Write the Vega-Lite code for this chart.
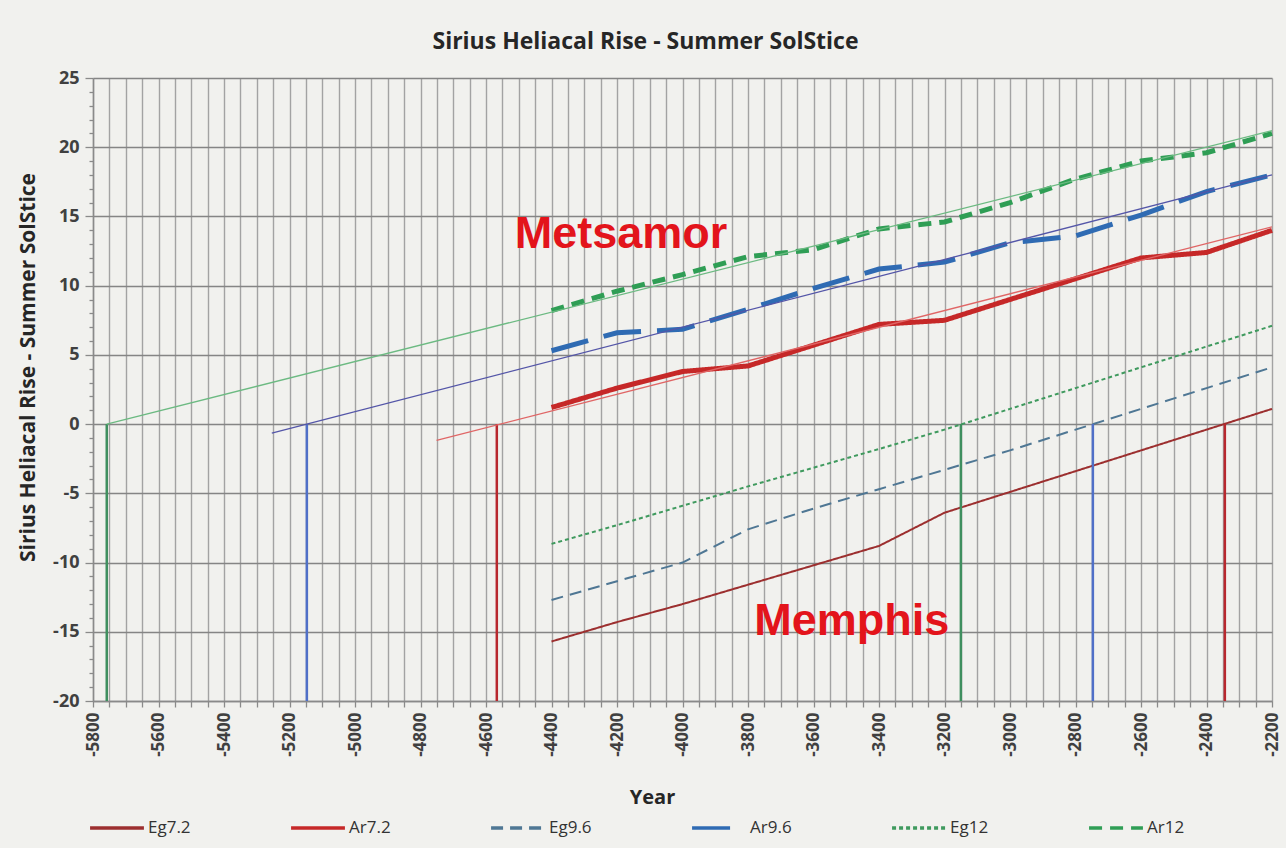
{
  "$schema": "https://vega.github.io/schema/vega-lite/v6.json",
  "width": 1179,
  "height": 623,
  "autosize": {"type": "none"},
  "padding": {"left": 93, "top": 78, "right": 14, "bottom": 147},
  "background": "#f1f1ee",
  "title": {"text": "Sirius Heliacal Rise - Summer SolStice", "font": "Open Sans", "fontSize": 23, "fontWeight": "bold", "color": "#262626", "frame": "group", "anchor": "middle", "dx": -37, "offset": 15},
  "config": {"view": {"stroke": null}},
  "datasets": {
    "series": [
      {"series": "Eg7.2", "year": -4400, "value": -15.7},
      {"series": "Eg7.2", "year": -4200, "value": -14.3},
      {"series": "Eg7.2", "year": -4000, "value": -13.0},
      {"series": "Eg7.2", "year": -3800, "value": -11.6},
      {"series": "Eg7.2", "year": -3600, "value": -10.2},
      {"series": "Eg7.2", "year": -3400, "value": -8.8},
      {"series": "Eg7.2", "year": -3200, "value": -6.4},
      {"series": "Eg7.2", "year": -3000, "value": -4.9},
      {"series": "Eg7.2", "year": -2800, "value": -3.4},
      {"series": "Eg7.2", "year": -2600, "value": -1.9},
      {"series": "Eg7.2", "year": -2400, "value": -0.4},
      {"series": "Eg7.2", "year": -2200, "value": 1.1},
      {"series": "Ar7.2", "year": -4400, "value": 1.2},
      {"series": "Ar7.2", "year": -4200, "value": 2.6},
      {"series": "Ar7.2", "year": -4000, "value": 3.8},
      {"series": "Ar7.2", "year": -3800, "value": 4.2},
      {"series": "Ar7.2", "year": -3600, "value": 5.7},
      {"series": "Ar7.2", "year": -3400, "value": 7.2},
      {"series": "Ar7.2", "year": -3200, "value": 7.5},
      {"series": "Ar7.2", "year": -3000, "value": 9.0},
      {"series": "Ar7.2", "year": -2800, "value": 10.5},
      {"series": "Ar7.2", "year": -2600, "value": 12.0},
      {"series": "Ar7.2", "year": -2400, "value": 12.4},
      {"series": "Ar7.2", "year": -2200, "value": 14.0},
      {"series": "Eg9.6", "year": -4400, "value": -12.7},
      {"series": "Eg9.6", "year": -4200, "value": -11.35},
      {"series": "Eg9.6", "year": -4000, "value": -10.0},
      {"series": "Eg9.6", "year": -3800, "value": -7.6},
      {"series": "Eg9.6", "year": -3600, "value": -6.1},
      {"series": "Eg9.6", "year": -3400, "value": -4.7},
      {"series": "Eg9.6", "year": -3200, "value": -3.3},
      {"series": "Eg9.6", "year": -3000, "value": -1.9},
      {"series": "Eg9.6", "year": -2800, "value": -0.4},
      {"series": "Eg9.6", "year": -2600, "value": 1.1},
      {"series": "Eg9.6", "year": -2400, "value": 2.6},
      {"series": "Eg9.6", "year": -2200, "value": 4.1},
      {"series": "Ar9.6", "year": -4400, "value": 5.3},
      {"series": "Ar9.6", "year": -4200, "value": 6.6},
      {"series": "Ar9.6", "year": -4000, "value": 6.85},
      {"series": "Ar9.6", "year": -3800, "value": 8.3},
      {"series": "Ar9.6", "year": -3600, "value": 9.8},
      {"series": "Ar9.6", "year": -3400, "value": 11.2},
      {"series": "Ar9.6", "year": -3200, "value": 11.7},
      {"series": "Ar9.6", "year": -3000, "value": 13.1},
      {"series": "Ar9.6", "year": -2800, "value": 13.6},
      {"series": "Ar9.6", "year": -2600, "value": 15.1},
      {"series": "Ar9.6", "year": -2400, "value": 16.8},
      {"series": "Ar9.6", "year": -2200, "value": 18.0},
      {"series": "Eg12", "year": -4400, "value": -8.65},
      {"series": "Eg12", "year": -4200, "value": -7.3},
      {"series": "Eg12", "year": -4000, "value": -5.9},
      {"series": "Eg12", "year": -3800, "value": -4.5},
      {"series": "Eg12", "year": -3600, "value": -3.15},
      {"series": "Eg12", "year": -3400, "value": -1.8},
      {"series": "Eg12", "year": -3200, "value": -0.4},
      {"series": "Eg12", "year": -3000, "value": 1.1},
      {"series": "Eg12", "year": -2800, "value": 2.6},
      {"series": "Eg12", "year": -2600, "value": 4.1},
      {"series": "Eg12", "year": -2400, "value": 5.6},
      {"series": "Eg12", "year": -2200, "value": 7.1},
      {"series": "Ar12", "year": -4400, "value": 8.2},
      {"series": "Ar12", "year": -4200, "value": 9.6},
      {"series": "Ar12", "year": -4000, "value": 10.8},
      {"series": "Ar12", "year": -3800, "value": 12.1},
      {"series": "Ar12", "year": -3600, "value": 12.6},
      {"series": "Ar12", "year": -3400, "value": 14.1},
      {"series": "Ar12", "year": -3200, "value": 14.6},
      {"series": "Ar12", "year": -3000, "value": 16.0},
      {"series": "Ar12", "year": -2800, "value": 17.7},
      {"series": "Ar12", "year": -2600, "value": 19.0},
      {"series": "Ar12", "year": -2400, "value": 19.6},
      {"series": "Ar12", "year": -2200, "value": 21.0}
    ],
    "trends": [
      {"trend": "Ar12 trend", "year": -5758, "value": 0.0},
      {"trend": "Ar12 trend", "year": -2200, "value": 21.2},
      {"trend": "Ar9.6 trend", "year": -5254, "value": -0.65},
      {"trend": "Ar9.6 trend", "year": -2200, "value": 18.0},
      {"trend": "Ar7.2 trend", "year": -4751, "value": -1.18},
      {"trend": "Ar7.2 trend", "year": -2200, "value": 14.25}
    ],
    "crossings": [
      {"line": "Ar12 trend", "year": -5758},
      {"line": "Ar9.6 trend", "year": -5147},
      {"line": "Ar7.2 trend", "year": -4567},
      {"line": "Eg12", "year": -3150},
      {"line": "Eg9.6", "year": -2747},
      {"line": "Eg7.2", "year": -2344}
    ],
    "labels": [
      {"label": "Metsamor", "year": -4188, "value": 12.7},
      {"label": "Memphis", "year": -3483, "value": -15.2}
    ]
  },
  "layer": [
    {
      "data": {"name": "series"},
      "mark": {"type": "line"},
      "encoding": {
        "x": {"field": "year", "type": "quantitative", "title": "Year",
          "scale": {"domain": [-5800, -2200], "nice": false, "zero": false},
          "axis": {
            "tickCount": 72,
            "labelExpr": "datum.value % 200 === 0 ? '' + datum.value : ''",
            "labelAngle": -90, "labelFont": "Open Sans", "labelFontSize": 17, "labelFontWeight": "bold", "labelColor": "#404040",
            "labelPadding": 5, "labelOverlap": false, "labelFlush": false,
            "tickSize": 6, "tickColor": "#8a8a8a", "tickWidth": 1.3, "domainColor": "#8a8a8a", "domainWidth": 1.5,
            "grid": true, "gridColor": "#a3a3a3", "gridWidth": 1.4,
            "titleFont": "Open Sans", "titleFontSize": 20, "titleFontWeight": "bold", "titleColor": "#262626",
            "titleX": 559, "titleY": 96, "titleBaseline": "middle", "titleAlign": "center"
          }},
        "y": {"field": "value", "type": "quantitative", "title": "Sirius Heliacal Rise - Summer SolStice",
          "scale": {"domain": [-20, 25], "nice": false, "zero": false},
          "axis": {
            "tickCount": 45,
            "labelExpr": "datum.value % 5 === 0 ? '' + datum.value : ''",
            "labelFont": "Open Sans", "labelFontSize": 18, "labelFontWeight": "bold", "labelColor": "#404040",
            "labelPadding": 6, "labelOverlap": false, "labelFlush": false,
            "tickSize": {"condition": {"test": "datum.value % 5 === 0", "value": 8}, "value": 4},
            "tickColor": "#8a8a8a", "tickWidth": 1.3, "domainColor": "#8a8a8a", "domainWidth": 1.5,
            "grid": true, "gridColor": "#858585", "gridWidth": 1.5,
            "gridOpacity": {"condition": {"test": "datum.value % 5 === 0", "value": 1}, "value": 0},
            "titleFont": "Open Sans", "titleFontSize": 21, "titleFontWeight": "bold", "titleColor": "#262626",
            "titleX": -65, "titleY": 289, "titleAlign": "center", "titleBaseline": "middle"
          }},
        "color": {"field": "series", "type": "nominal",
          "scale": {"domain": ["Eg7.2", "Ar7.2", "Eg9.6", "Ar9.6", "Eg12", "Ar12"],
                    "range": ["#9c2f2f", "#c62828", "#4f7794", "#2f6bb3", "#3f9a5e", "#2f9e55"]},
          "legend": {"orient": "none", "legendX": -5, "legendY": 721, "direction": "horizontal", "columns": 6, "title": null,
            "symbolType": "stroke", "symbolSize": 2900, "symbolStrokeWidth": 3.5,
            "labelFont": "Open Sans", "labelFontSize": 17, "labelColor": "#333333", "labelOffset": 2,
            "columnPadding": 93}},
        "strokeDash": {"field": "series", "type": "nominal",
          "scale": {"domain": ["Eg7.2", "Ar7.2", "Eg9.6", "Ar9.6", "Eg12", "Ar12"],
                    "range": [[1, 0], [1, 0], [12, 7], [38, 16], [4, 3], [13, 8]]}},
        "strokeWidth": {"condition": {"test": "indexof(datum.series, 'Ar') === 0", "value": 5}, "value": 2}
      }
    },
    {
      "mark": {"type": "rule", "color": "#8a5220", "strokeWidth": 2.2},
      "encoding": {"y": {"datum": 0, "type": "quantitative"}}
    },
    {
      "data": {"name": "crossings"},
      "mark": {"type": "rule", "strokeWidth": 2.5},
      "encoding": {
        "x": {"field": "year", "type": "quantitative", "title": "Year"},
        "y": {"datum": 0, "type": "quantitative"},
        "y2": {"datum": -20},
        "stroke": {"field": "line", "type": "nominal", "legend": null,
          "scale": {"domain": ["Ar12 trend", "Ar9.6 trend", "Ar7.2 trend", "Eg12", "Eg9.6", "Eg7.2"],
                    "range": ["#3f8f5f", "#5070c8", "#b8282e", "#3f8f5f", "#5070c8", "#b8282e"]}}
      }
    },
    {
      "data": {"name": "trends"},
      "mark": {"type": "line", "strokeWidth": 1.3},
      "encoding": {
        "x": {"field": "year", "type": "quantitative", "title": "Year"},
        "y": {"field": "value", "type": "quantitative", "title": "Sirius Heliacal Rise - Summer SolStice"},
        "stroke": {"field": "trend", "type": "nominal", "legend": null,
          "scale": {"domain": ["Ar12 trend", "Ar9.6 trend", "Ar7.2 trend"], "range": ["#6cba82", "#5456a8", "#e06666"]}}
      }
    },
    {
      "data": {"name": "labels"},
      "mark": {"type": "text", "font": "Liberation Sans", "fontSize": 45, "fontWeight": "bold", "color": "#e3141b", "align": "center", "baseline": "alphabetic"},
      "encoding": {
        "x": {"field": "year", "type": "quantitative", "title": "Year"},
        "y": {"field": "value", "type": "quantitative", "title": "Sirius Heliacal Rise - Summer SolStice"},
        "text": {"field": "label", "type": "nominal"}
      }
    }
  ],
  "resolve": {"scale": {"stroke": "independent"}}
}
